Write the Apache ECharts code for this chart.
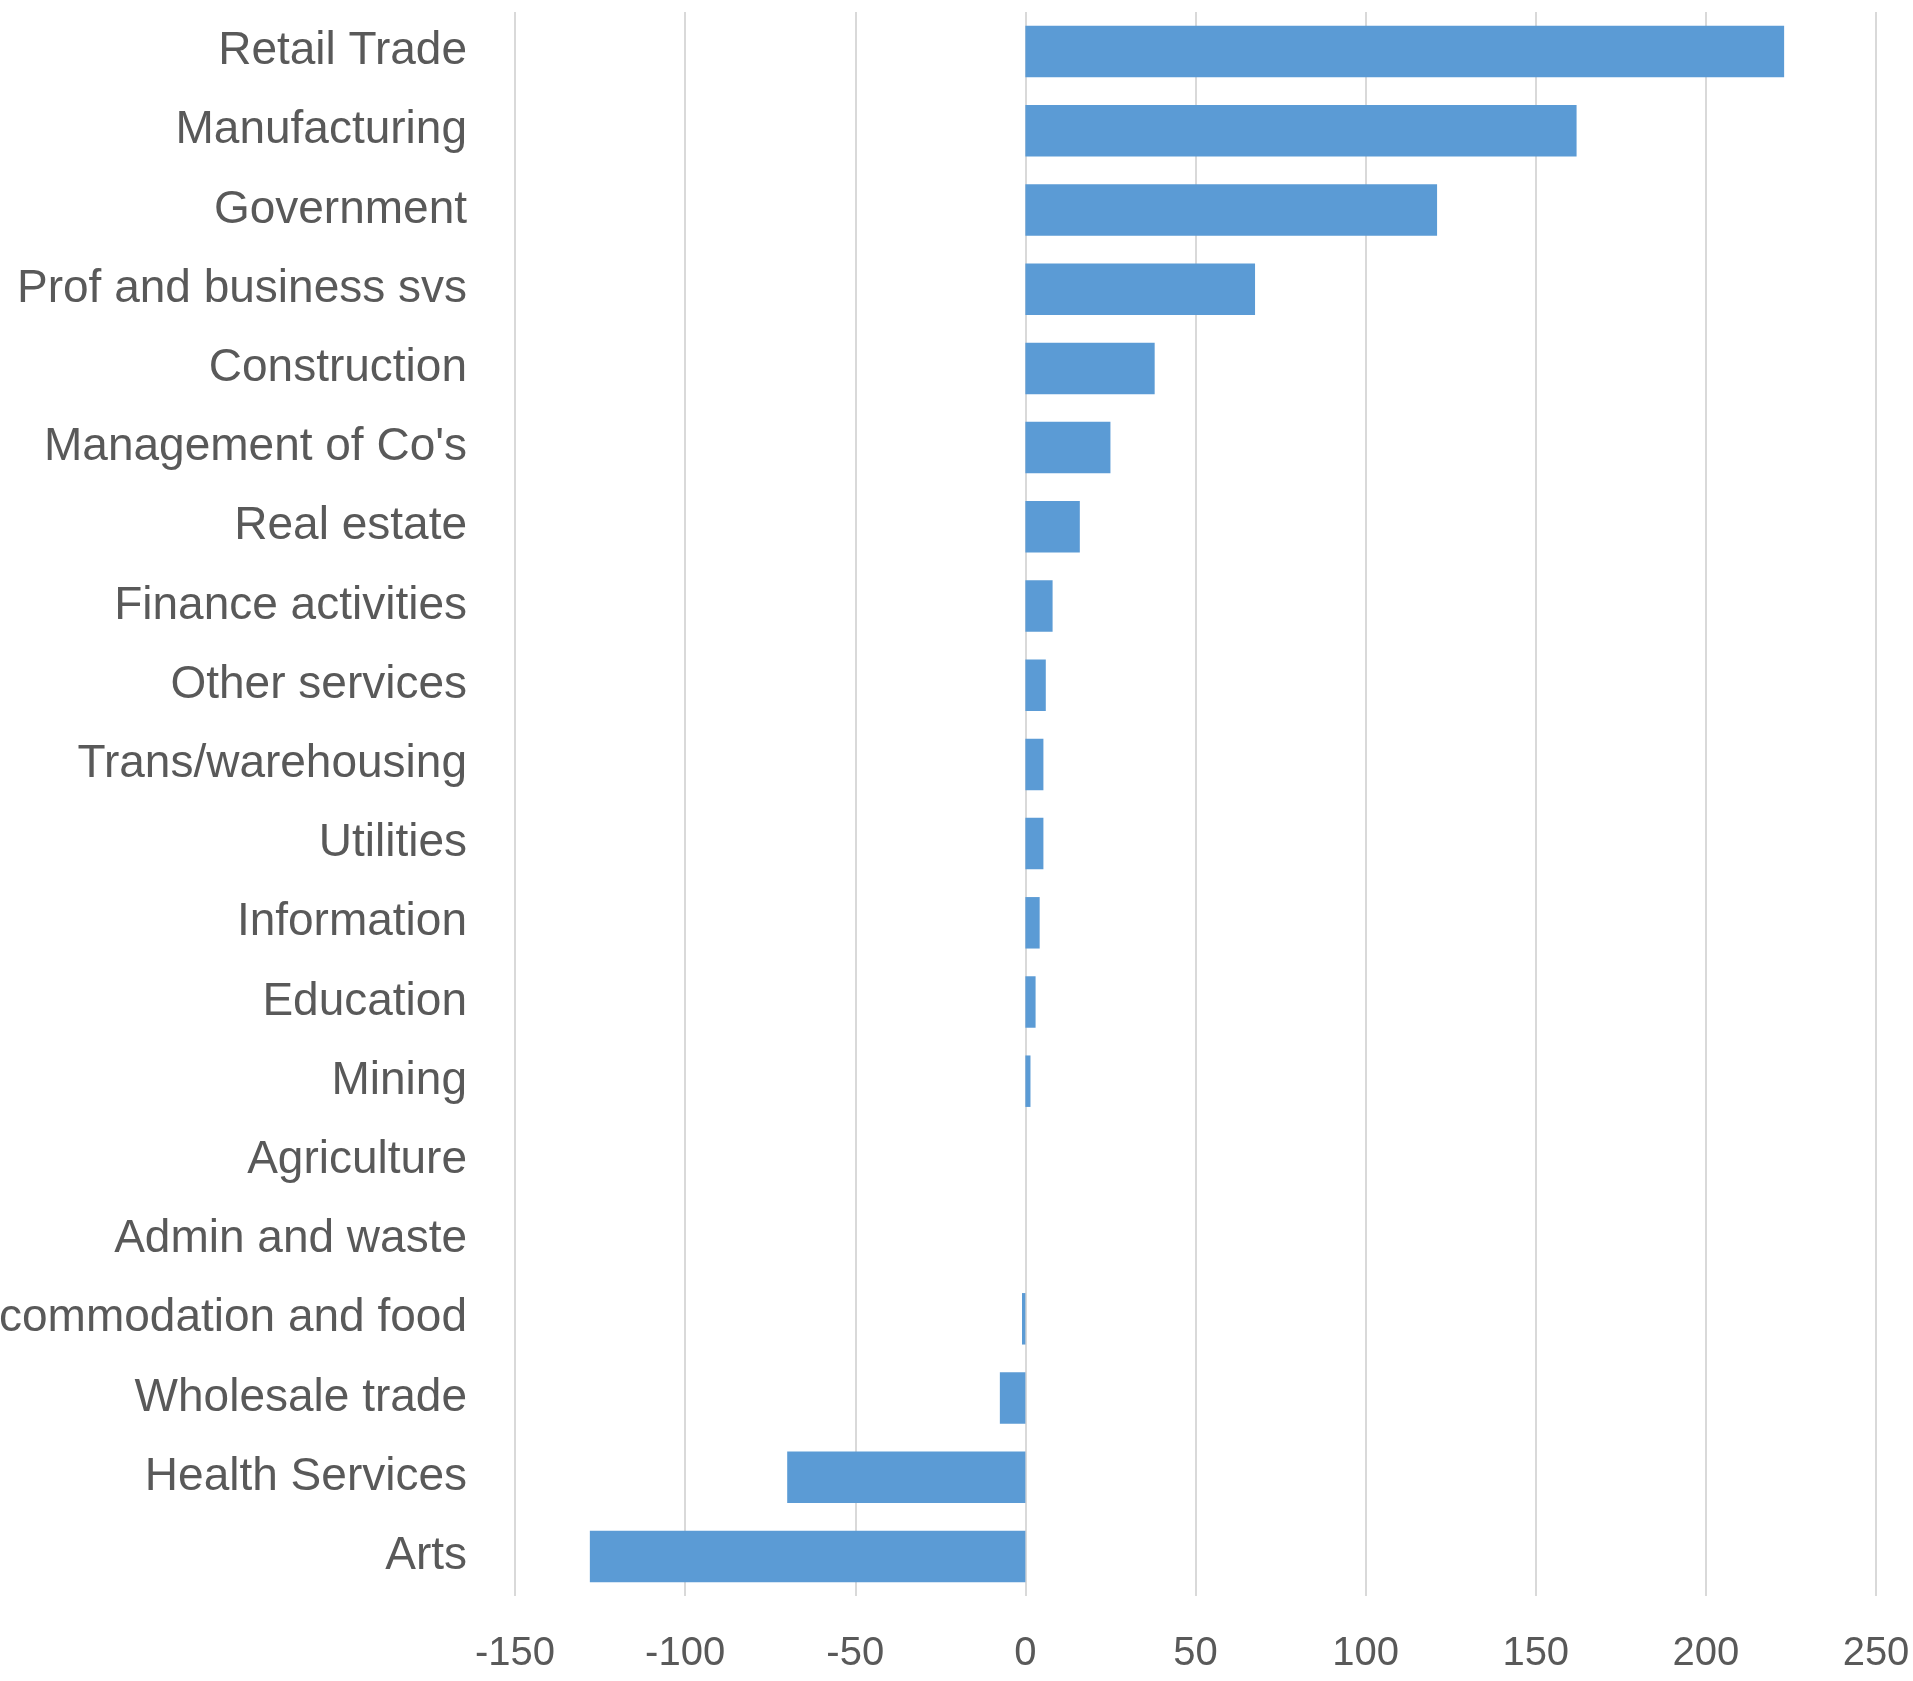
<!DOCTYPE html>
<html>
<head>
<meta charset="utf-8">
<script src="https://cdn.jsdelivr.net/npm/echarts@6/dist/echarts.min.js"></script>
<style>
  html, body { margin: 0; padding: 0; background: #fff; }
  #chart { width: 1913px; height: 1681px; }
</style>
</head>
<body>
<div id="chart"></div>
<script>
var myChart = echarts.init(document.getElementById('chart'));

// categories, top to bottom
var categories = [
    'Retail Trade', 'Manufacturing', 'Government', 'Prof and business svs',
    'Construction', "Management of Co's", 'Real estate', 'Finance activities',
    'Other services', 'Trans/warehousing', 'Utilities', 'Information',
    'Education', 'Mining', 'Agriculture', 'Admin and waste',
    'Accommodation and food', 'Wholesale trade', 'Health Services', 'Arts'
];
var values = [
    223, 162, 121, 67.5,
    38, 25, 16, 8,
    6, 5.3, 5.3, 4.2,
    3, 1.5, 0, 0,
    -1, -7.5, -70, -128
];
var xTicks = [-150, 250, 50];  // min, max, interval

var option = {
    animation: false,
    grid: { left: 515, right: 37, top: 12, bottom: 85, outerBoundsMode: 'none' },
    xAxis: {
        type: 'value',
        min: xTicks[0],
        max: xTicks[1],
        interval: xTicks[2],
        axisLine: { show: false },
        axisTick: { show: false },
        axisLabel: {
            color: '#595959',
            fontSize: 40,
            fontFamily: 'Liberation Sans, Arial, sans-serif',
            margin: 38
        },
        splitLine: { lineStyle: { color: '#d9d9d9', width: 2 } }
    },
    yAxis: {
        type: 'category',
        inverse: true,
        data: categories,
        axisLine: { show: false },
        axisTick: { show: false },
        axisLabel: {
            color: '#595959',
            fontSize: 46,
            fontFamily: 'Liberation Sans, Arial, sans-serif',
            margin: 48
        }
    },
    series: [{
        type: 'bar',
        data: values,
        barCategoryGap: '35%',
        itemStyle: { color: '#5b9bd5' }
    }]
};

myChart.setOption(option);
</script>
</body>
</html>
